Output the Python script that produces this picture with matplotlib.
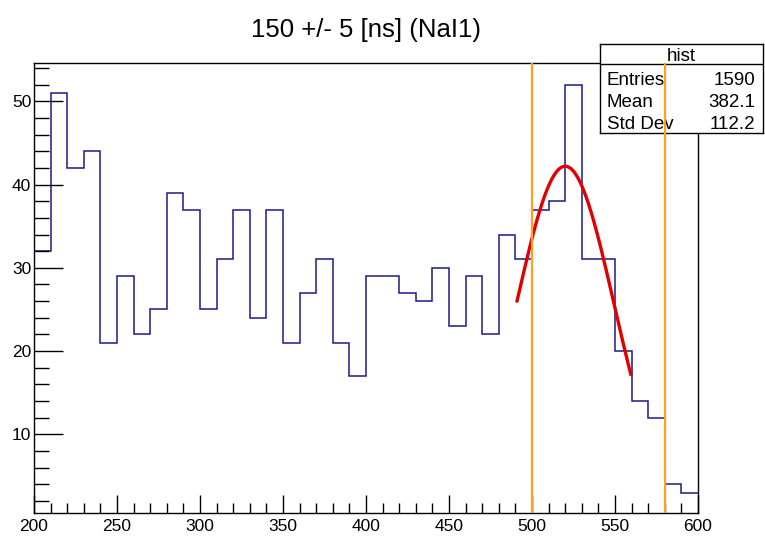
import numpy as np
import matplotlib
matplotlib.use("Agg")
import matplotlib.pyplot as plt
from matplotlib.ticker import MultipleLocator

# ---- data ----
bin_edges = np.arange(200, 601, 10)
counts = [32, 51, 42, 44, 21, 29, 22, 25, 39, 37,
          25, 31, 37, 24, 37, 21, 27, 31, 21, 17,
          29, 29, 27, 26, 30, 23, 29, 22, 34, 31,
          37, 38, 52, 31, 31, 20, 14, 12, 4, 3]
title = "150 +/- 5 [ns] (NaI1)"
fit_amp = 42.2
fit_mean = 520.0
fit_sigma = 29.5
fit_range = (491.0, 559.5)
cut_lines = [500, 580]
stats_name = "hist"
stats_labels = ["Entries", "Mean", "Std Dev"]
stats_values = ["1590", "382.1", "112.2"]

W, H = 765, 538
plt.rcParams['font.family'] = ['Liberation Sans', 'DejaVu Sans']
fig = plt.figure(figsize=(W / 100, H / 100), dpi=100)
fig.patch.set_facecolor("white")

L, R, T, B = 34, 698, 63, 513
pos = [L / W, 1 - B / H, (R - L) / W, (B - T) / H]
ax = fig.add_axes(pos, zorder=1)
ax.set_facecolor("none")
ax.stairs(counts, bin_edges, baseline=None, color="#1a1a8c", lw=1.1)

xs = np.linspace(fit_range[0], fit_range[1], 200)
ax.plot(xs, fit_amp * np.exp(-0.5 * ((xs - fit_mean) / fit_sigma) ** 2),
        color="#e00000", lw=2.4)

ax.set_xlim(200, 600)
ax.set_ylim(0.55, 54.6)
ax.xaxis.set_major_locator(MultipleLocator(50))
ax.xaxis.set_minor_locator(MultipleLocator(10))
ax.yaxis.set_major_locator(MultipleLocator(10))
ax.yaxis.set_minor_locator(MultipleLocator(2))
ax.tick_params(axis="x", which="major", direction="in", length=13, width=1, labelsize=12.5, pad=4)
ax.tick_params(axis="x", which="minor", direction="in", length=7, width=1)
ax.tick_params(axis="y", which="major", direction="in", length=21, width=1, labelsize=12.5, pad=2)
ax.tick_params(axis="y", which="minor", direction="in", length=11, width=1)
for s in ax.spines.values():
    s.set_linewidth(1.0)

fig.text(366 / W, 1 - 30 / H, title, ha="center", va="center", fontsize=18.5)

# stats box
bx0, bx1, by0, by1 = 600, 763, 44, 133
sax = fig.add_axes([bx0 / W, 1 - by1 / H, (bx1 - bx0) / W, (by1 - by0) / H], zorder=2)
sax.set_xticks([]); sax.set_yticks([])
sax.set_xlim(bx0, bx1); sax.set_ylim(by1, by0)
sax.set_facecolor("white")
for s in sax.spines.values():
    s.set_linewidth(1.0)
sax.axhline(64.5, color="black", lw=1.0)
sax.text((bx0 + bx1) / 2, 56.5, stats_name, ha="center", va="center", fontsize=13.5)
for i, (lab, val) in enumerate(zip(stats_labels, stats_values)):
    y = 80.5 + i * 22
    sax.text(bx0 + 7, y, lab, ha="left", va="center", fontsize=13.5)
    sax.text(bx1 - 8, y, val, ha="right", va="center", fontsize=13.5)

# overlay for cut lines
oax = fig.add_axes(pos, zorder=3)
oax.set_facecolor("none")
oax.axis("off")
oax.set_xlim(200, 600)
oax.set_ylim(0.55, 54.6)
for c in cut_lines:
    oax.axvline(c, color="#ffa020", lw=1.6)

fig.savefig("out.png", dpi=100)
